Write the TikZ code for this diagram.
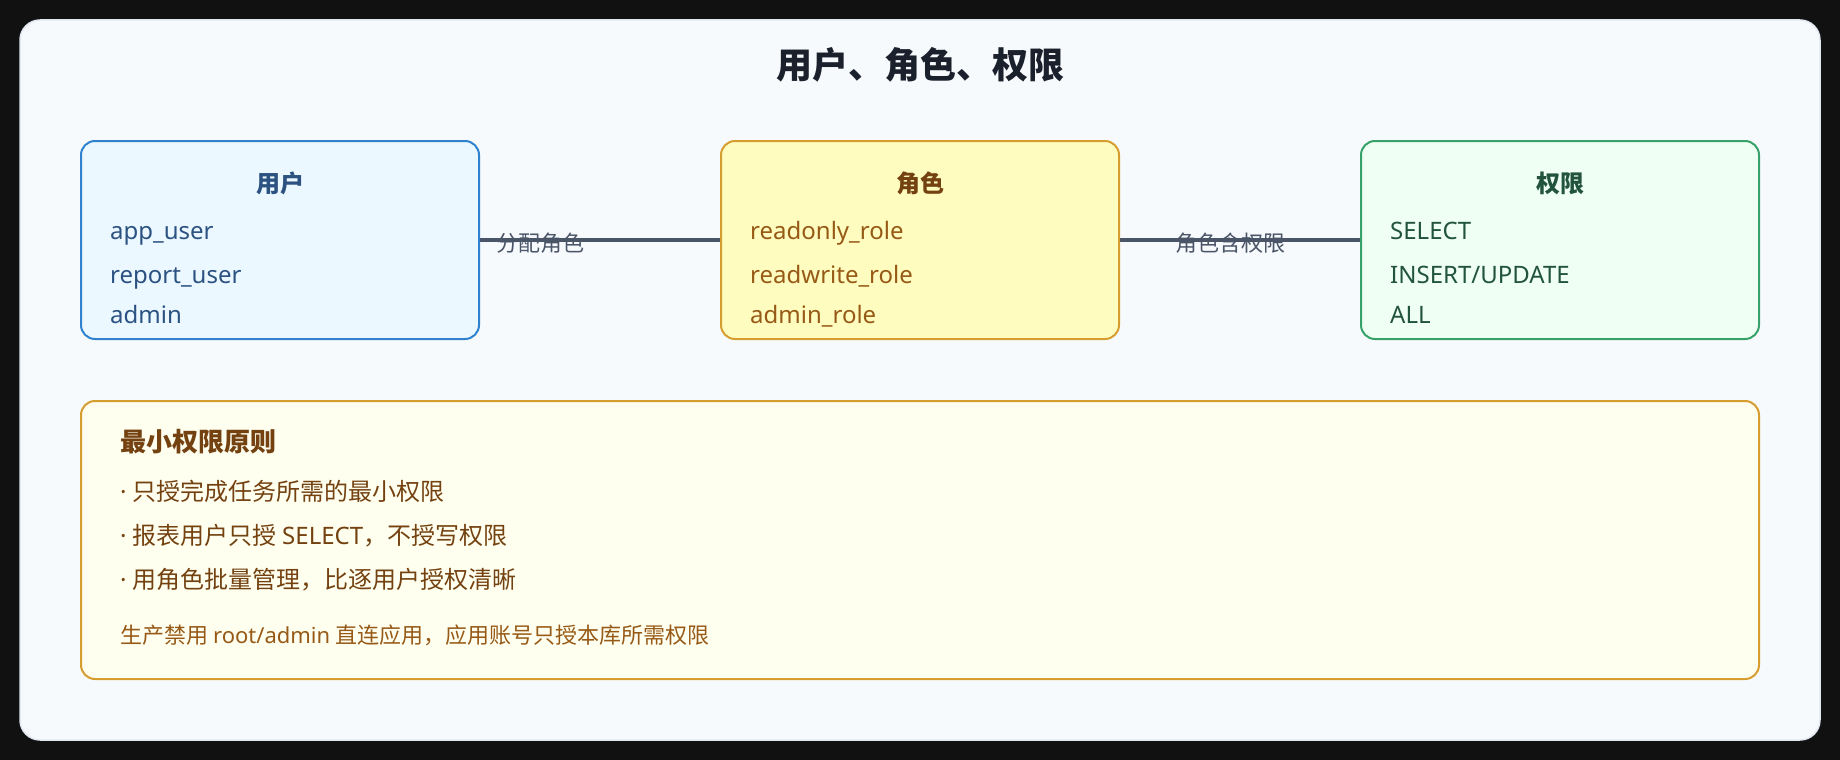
\documentclass[tikz,border=0pt]{standalone}
\usepackage{fontspec}
\setmainfont{Noto Sans CJK SC}
\newfontfamily\latin{Noto Sans}
\newcommand\fsize[1]{\fontsize{#1pt}{#1pt}\selectfont}

\definecolor{pagebg}{HTML}{111111}
\definecolor{cardfill}{HTML}{F7FAFC}
\definecolor{carddraw}{HTML}{E2E8F0}
\definecolor{titletext}{HTML}{1A202C}
\definecolor{linkgray}{HTML}{4A5568}
\definecolor{userdraw}{HTML}{3182CE}
\definecolor{userfill}{HTML}{EBF8FF}
\definecolor{usertext}{HTML}{2C5282}
\definecolor{roledraw}{HTML}{D69E2E}
\definecolor{rolefill}{HTML}{FEFCBF}
\definecolor{roletitle}{HTML}{744210}
\definecolor{roletext}{HTML}{975A16}
\definecolor{permdraw}{HTML}{38A169}
\definecolor{permfill}{HTML}{F0FFF4}
\definecolor{permtext}{HTML}{22543D}
\definecolor{notefill}{HTML}{FFFFF0}

\tikzset{
  entitybox/.style={draw,line width=2pt,rounded corners=14pt,inner sep=0pt,
    minimum width=398pt,minimum height=198pt},
  boxtitle/.style={anchor=base,inner sep=0pt,font=\fsize{24}\bfseries},
  boxitem/.style={anchor=base west,inner sep=0pt,font=\latin\fsize{24}},
  linklabel/.style={anchor=base west,inner sep=0pt,text=linkgray,font=\fsize{22}},
  notetext/.style={anchor=base west,inner sep=0pt,text=roletitle,font=\fsize{24}}
}

\begin{document}
\begin{tikzpicture}[x=1pt,y=-1pt]

\fill[pagebg] (0,0) rectangle (1840,760);
\useasboundingbox (0,0) rectangle (1840,760);

\filldraw[fill=cardfill,draw=carddraw,line width=1.5pt,rounded corners=20pt]
  (20,20) rectangle (1820,740); % card

\node (title) at (920,78) [anchor=base,inner sep=0pt,text=titletext,
  font=\fsize{36}\bfseries] {用户、角色、权限};

\begin{scope} % three entity boxes
  \node (user) at (280,240) [entitybox,draw=userdraw,fill=userfill] {};
  \node (role) at (920,240) [entitybox,draw=roledraw,fill=rolefill] {};
  \node (perm) at (1560,240) [entitybox,draw=permdraw,fill=permfill] {};

  \node (user-title) at (280,192) [boxtitle,text=usertext] {用户};
  \node (role-title) at (920,192) [boxtitle,text=roletitle] {角色};
  \node (perm-title) at (1560,192) [boxtitle,text=permtext] {权限};

  \foreach \txt/\y [count=\i] in {app\_user/239,report\_user/283,admin/323}
    \node (user-\i) at (110,\y) [boxitem,text=usertext] {\txt};
  \foreach \txt/\y [count=\i] in {readonly\_role/239,readwrite\_role/283,admin\_role/323}
    \node (role-\i) at (750,\y) [boxitem,text=roletext] {\txt};
  \foreach \txt/\y [count=\i] in {SELECT/239,{INSERT/UPDATE}/283,ALL/323}
    \node (perm-\i) at (1390,\y) [boxitem,text=permtext] {\txt};
\end{scope}

\begin{scope}[linkgray,line width=3.5pt] % connectors
  \draw (user) -- (role);
  \draw (role) -- (perm);
\end{scope}
\node (assign) at (496,251) [linklabel] {分配角色};
\node (grant) at (1175,251) [linklabel] {角色含权限};

\begin{scope} % least privilege note
  \node (note) at (920,540) [draw=roledraw,fill=notefill,line width=2pt,
    rounded corners=14pt,minimum width=1678pt,minimum height=278pt] {};
  \node (note-title) at (120,451) [notetext,font=\fsize{26}\bfseries] {最小权限原则};
  \node (note-1) at (120,500) [notetext] {{\latin· }只授完成任务所需的最小权限};
  \node (note-2) at (120,544) [notetext] {{\latin· }报表用户只授 {\latin SELECT}，不授写权限};
  \node (note-3) at (120,588) [notetext] {{\latin· }用角色批量管理，比逐用户授权清晰};
  \node (note-foot) at (120,643) [notetext,text=roletext,font=\fsize{22}]
    {生产禁用 {\latin root/admin} 直连应用，应用账号只授本库所需权限};
\end{scope}

\end{tikzpicture}
\end{document}
